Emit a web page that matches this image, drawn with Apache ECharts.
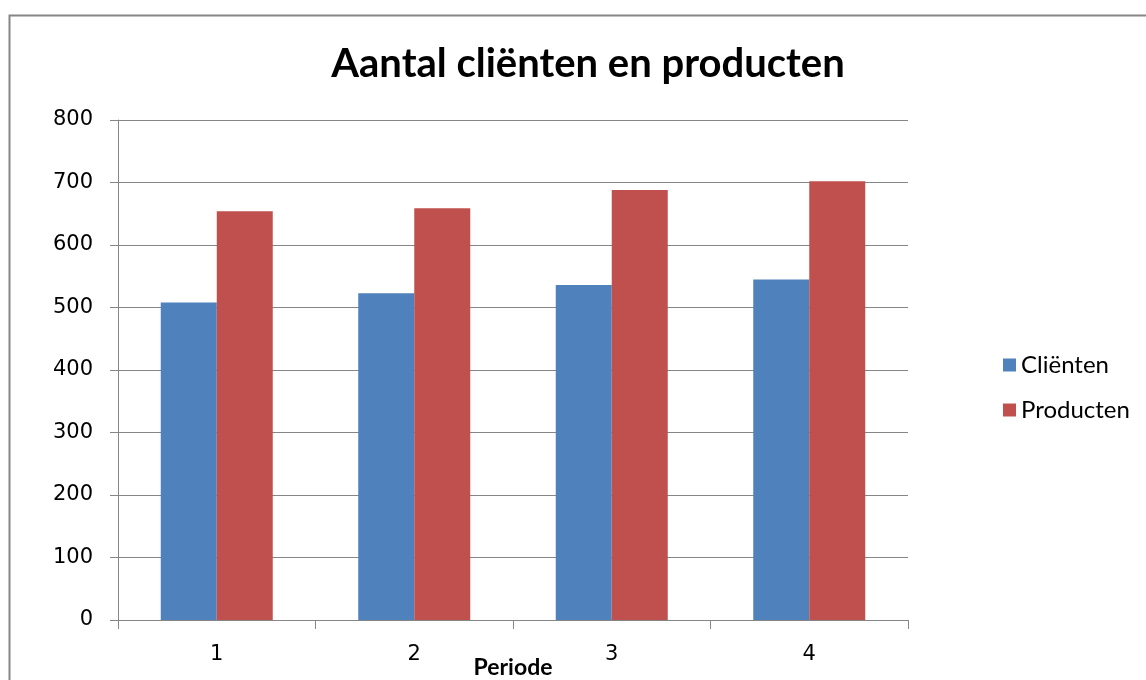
<!DOCTYPE html>
<html><head><meta charset="utf-8">
<script src="https://cdn.jsdelivr.net/npm/echarts@6/dist/echarts.min.js"></script>
<style>html,body{margin:0;padding:0;background:#fff}#c{width:1146px;height:680px}</style>
</head><body><div id="c"></div>
<script>
const categories = ['1', '2', '3', '4'];
const clienten = [508, 523, 536, 545];
const producten = [654, 659, 688, 702];
const seriesNames = ['Cliënten', 'Producten'];
const yTicks = [0, 100, 200, 300, 400, 500, 600, 700, 800];

const chart = echarts.init(document.getElementById('c'));
chart.setOption({
  animation: false,
  backgroundColor: '#fff',
  graphic: [{
    type: 'rect', left: 7, top: 13, shape: { width: 1200, height: 720 },
    style: { fill: 'none', stroke: '#868686', lineWidth: 2 }, silent: true
  }],
  title: {
    text: 'Aantal cliënten en producten', left: 583, top: 39, textAlign: 'center',
    textStyle: { fontFamily: 'Lato', fontWeight: 'bold', fontSize: 40, color: '#000' }
  },
  legend: {
    orient: 'vertical', left: 998, top: 348, itemWidth: 13, itemHeight: 13, itemGap: 21,
    icon: 'rect',
    textStyle: { fontFamily: 'Lato', fontSize: 24, color: '#000' },
    data: seriesNames
  },
  grid: { left: 118, top: 120, width: 790, height: 500, outerBoundsMode: 'none' },
  xAxis: {
    type: 'category', data: categories,
    name: 'Periode', nameLocation: 'middle', nameGap: 36, nameMoveOverlap: false,
    nameTextStyle: { fontFamily: 'Lato', fontWeight: 'bold', fontSize: 23, color: '#000', verticalAlign: 'top' },
    axisLine: { lineStyle: { color: '#868686', width: 1 } },
    axisTick: { show: true, length: 9, lineStyle: { color: '#868686' } },
    axisLabel: { fontFamily: 'DejaVu Sans', fontSize: 21, color: '#000', margin: 24 }
  },
  yAxis: {
    type: 'value', min: yTicks[0], max: yTicks[yTicks.length - 1], interval: 100,
    axisLine: { show: true, lineStyle: { color: '#868686' } },
    axisTick: { show: true, length: 8, lineStyle: { color: '#868686' } },
    splitLine: { lineStyle: { color: '#868686', width: 1 } },
    axisLabel: { fontFamily: 'DejaVu Sans', fontSize: 21, color: '#000', margin: 25 }
  },
  series: [
    { name: seriesNames[0], type: 'bar', data: clienten, barWidth: 56, barGap: '0%', itemStyle: { color: '#4F81BD' } },
    { name: seriesNames[1], type: 'bar', data: producten, barWidth: 56, barGap: '0%', itemStyle: { color: '#C0504D' } }
  ]
});
</script></body></html>
